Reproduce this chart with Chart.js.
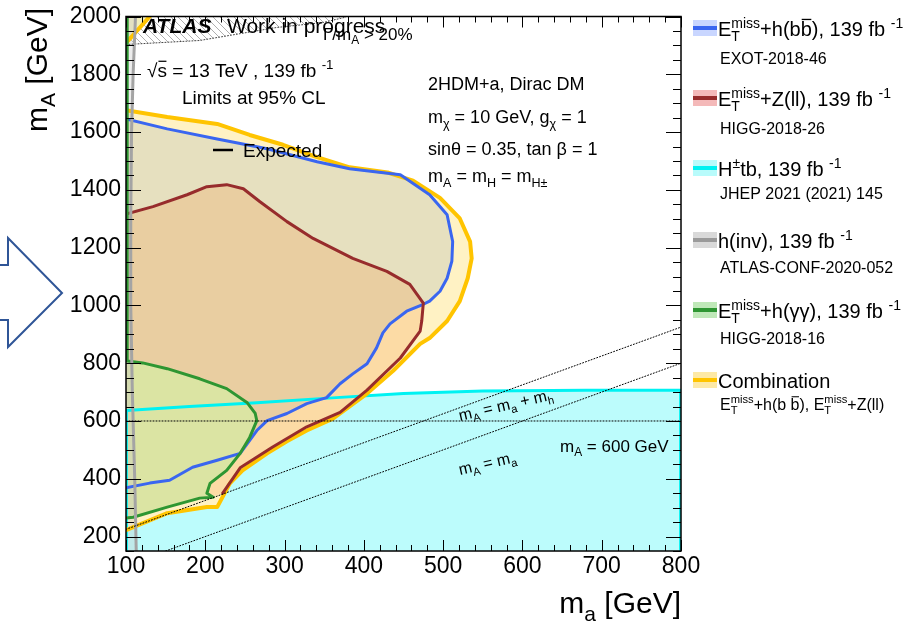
<!DOCTYPE html>
<html>
<head>
<meta charset="utf-8">
<script src="https://cdn.jsdelivr.net/npm/chart.js@4.4.1/dist/chart.umd.min.js"></script>
<style>
  html, body { margin: 0; padding: 0; background: #fff; }
  #plot { display: block; }
</style>
</head>
<body>
<canvas id="plot" width="918" height="628"></canvas>
<script>
const FONT = '"Liberation Sans", Arial, Helvetica, sans-serif';

// axis ticks
const xTickValues = [100, 200, 300, 400, 500, 600, 700, 800];
const yTickValues = [200, 400, 600, 800, 1000, 1200, 1400, 1600, 1800, 2000];

// exclusion contours as [m_a, m_A] in GeV.
// the *Edge arrays hold the points outside the frame that close each area
const combinationContour = [
  [100, 1676], [152, 1652], [215, 1628], [256, 1590], [298, 1556], [340, 1514], [382, 1478],
  [430, 1460], [462, 1432], [496, 1372], [521, 1301], [534, 1221], [536, 1163], [531, 1094],
  [521, 1015], [505, 946], [483, 887], [471, 867], [437, 774], [404, 695], [361, 608],
  [328, 567], [303, 530], [278, 488], [247, 429], [231, 384], [215, 302], [202, 302],
  [152, 281], [100, 222]
];
const combinationEdge = [[90, 222], [90, 1676]];
const combinationCorner = [[100, 1908], [130, 2000], [140, 2030]];
const combinationCornerEdge = [[90, 2030], [90, 1908]];

const hbbContour = [
  [100, 1645], [152, 1611], [215, 1576], [278, 1542], [341, 1497], [382, 1473], [446, 1452],
  [483, 1383], [505, 1314], [512, 1221], [511, 1153], [505, 1094], [496, 1049], [483, 1015],
  [475, 1004], [454, 980], [433, 936], [424, 905], [416, 853], [404, 798], [386, 763],
  [370, 729], [353, 681], [328, 660], [303, 626], [278, 601], [265, 567], [244, 488],
  [215, 464], [184, 440], [155, 395], [130, 385], [100, 369]
];
const hbbEdge = [[90, 369], [90, 1645]];

const zllContour = [
  [100, 1316], [134, 1342], [177, 1383], [202, 1411], [227, 1418], [248, 1404], [269, 1359],
  [303, 1290], [336, 1232], [386, 1163], [429, 1118], [458, 1073], [475, 1008], [473, 946],
  [471, 911], [446, 818], [404, 707], [370, 630], [328, 580], [285, 510], [244, 438],
  [222, 350]
];
const zllEdge = [[205, 335], [90, 318], [90, 1316]];

const hyyContour = [
  [101.5, 2050], [101.5, 808], [121, 801], [152, 781], [193, 746], [227, 712], [253, 663],
  [263, 626], [265, 601], [256, 543], [244, 488], [227, 429], [206, 384], [202, 350],
  [210, 336], [193, 333], [152, 302], [109, 267], [100, 264]
];
const hyyEdge = [[90, 264], [90, 2050]];

const htbContour = [
  [100.5, 140], [100.5, 636], [180, 650], [265, 663], [360, 680], [450, 695], [550, 704],
  [680, 706], [799.5, 706], [799.5, 140]
];

const hinvContour = [
  [113, 140], [111, 400], [108, 700], [106, 1000], [106, 1300], [107, 1600], [109, 1800],
  [112, 2000], [113, 2050]
];
const hinvEdge = [[90, 2050], [90, 140]];

// width / mass > 20% boundary
const widthContour = [
  [100, 1903], [193, 1917], [290, 1962], [348, 1979], [376, 1997], [385, 2010]
];
const widthEdge = [[385, 2040], [90, 2040], [90, 1903]];

// kinematic reference lines
const lineMA600 = [[100, 600], [800, 600]];
const lineMaPlusMh = [[100, 225], [800, 925]];
const lineMaEqual = [[150, 150], [800, 800]];

// legend
const legendLabels = [
  ['E', { sup: 'miss', sub: 'T' }, '+h(b', { bar: 'b' }, '), 139 fb ', { sup: '-1' }],
  ['E', { sup: 'miss', sub: 'T' }, '+Z(ll), 139 fb ', { sup: '-1' }],
  ['H', { sup: '\u00b1' }, 'tb, 139 fb ', { sup: '-1' }],
  ['h(inv), 139 fb ', { sup: '-1' }],
  ['E', { sup: 'miss', sub: 'T' }, '+h(\u03b3\u03b3), 139 fb ', { sup: '-1' }],
  ['Combination']
];
const legendRefs = [
  ['EXOT-2018-46'],
  ['HIGG-2018-26'],
  ['JHEP 2021 (2021) 145'],
  ['ATLAS-CONF-2020-052'],
  ['HIGG-2018-16'],
  ['E', { sup: 'miss', sub: 'T' }, '+h(b ', { bar: 'b' }, '), E', { sup: 'miss', sub: 'T' }, '+Z(ll)']
];
const legendColors = ['#3a66f0', '#972c2c', '#00f2f2', '#9a9a9a', '#2e9632', '#ffc400'];
const legendBands = ['#c9d6ff', '#f4b9b9', '#b8fbfb', '#d9d9d9', '#bfe8b8', '#fde9a6'];

const toXY = (pts) => pts.map(([x, y]) => ({ x, y }));

function hatch() {
  const c = document.createElement('canvas');
  c.width = 7; c.height = 7;
  const g = c.getContext('2d');
  g.strokeStyle = '#9a9a9a';
  g.lineWidth = 0.8;
  g.beginPath();
  g.moveTo(-1, -1); g.lineTo(8, 8);
  g.moveTo(-1, 6); g.lineTo(1, 8);
  g.moveTo(6, -1); g.lineTo(8, 1);
  g.stroke();
  return g.createPattern(c, 'repeat');
}

function area(points, color, order) {
  return {
    data: toXY(points), showLine: true, fill: 'shape', backgroundColor: color,
    borderWidth: 0, pointRadius: 0, order, clip: 0
  };
}

function outline(points, color, width, order, dash) {
  return {
    data: toXY(points), showLine: true, fill: false, borderColor: color,
    borderWidth: width, borderDash: dash || [], pointRadius: 0, order, clip: 0,
    borderJoinStyle: 'round', borderCapStyle: 'round'
  };
}

const datasets = [
  area(widthContour.concat(widthEdge), hatch(), 20),
  area(htbContour, '#bcfcfc', 19),
  area(combinationContour.concat(combinationEdge), '#fff2c4', 18),
  area(combinationCorner.concat(combinationCornerEdge), '#f1efbd', 18),
  area(hbbContour.concat(hbbEdge), 'rgba(90,120,170,0.15)', 17),
  area(zllContour.concat(zllEdge), 'rgba(245,150,70,0.25)', 16),
  area(hyyContour.concat(hyyEdge), '#dbe4a3', 15),
  area(hinvContour.concat(hinvEdge), 'rgba(200,200,200,0.35)', 14),

  outline(widthContour, '#444', 1, 9, [1, 2]),
  outline(htbContour, '#00f2f2', 3, 8),
  outline(combinationContour, '#ffc400', 4, 7),
  outline(combinationCorner, '#ffc400', 4, 7),
  outline(hbbContour, '#3a66f0', 3, 6),
  outline(zllContour, '#972c2c', 3, 5),
  outline(hyyContour, '#2e9632', 3, 4),
  outline(hinvContour, '#a4a4a4', 3, 3),
  outline(lineMA600, '#000', 1, 2, [1, 2]),
  outline(lineMaPlusMh, '#000', 1, 2, [1, 2]),
  outline(lineMaEqual, '#000', 1, 2, [1, 2])
];

// text with super/subscripts: parts are strings or {sup, sub} / {bar}
function richWidth(ctx, parts, size) {
  let w = 0;
  for (const p of parts) {
    if (typeof p === 'string' || p.bar) {
      ctx.font = size + 'px ' + FONT;
      w += ctx.measureText(typeof p === 'string' ? p : p.bar).width;
    } else {
      ctx.font = (size * 0.7) + 'px ' + FONT;
      w += Math.max(p.sup ? ctx.measureText(p.sup).width : 0, p.sub ? ctx.measureText(p.sub).width : 0);
    }
  }
  return w;
}

function drawRich(ctx, x, y, parts, size) {
  ctx.textBaseline = 'alphabetic';
  ctx.textAlign = 'left';
  for (const p of parts) {
    if (typeof p === 'string') {
      ctx.font = size + 'px ' + FONT;
      ctx.fillText(p, x, y);
      x += ctx.measureText(p).width;
    } else if (p.bar) {
      ctx.font = size + 'px ' + FONT;
      const w = ctx.measureText(p.bar).width;
      ctx.fillText(p.bar, x, y);
      ctx.fillRect(x + 1, y - size * 0.86, w - 1.5, Math.max(1, size * 0.065));
      x += w;
    } else {
      ctx.font = (size * 0.7) + 'px ' + FONT;
      let w = 0;
      if (p.sup) { ctx.fillText(p.sup, x, y - size * 0.42); w = ctx.measureText(p.sup).width; }
      if (p.sub) { ctx.fillText(p.sub, x, y + size * 0.26); w = Math.max(w, ctx.measureText(p.sub).width); }
      x += w;
    }
  }
  return x;
}

const decorations = {
  id: 'decorations',
  afterDraw(chart) {
    const { ctx, chartArea: a, scales: { x, y } } = chart;
    ctx.save();
    ctx.fillStyle = '#000';
    ctx.strokeStyle = '#000';

    // inward ticks on all four sides
    ctx.lineWidth = 1;
    ctx.beginPath();
    for (let v = 100; v <= 800; v += 20) {
      const px = Math.round(x.getPixelForValue(v)) + 0.5;
      const len = v % 100 === 0 ? 11 : 6;
      ctx.moveTo(px, a.bottom); ctx.lineTo(px, a.bottom - len);
      ctx.moveTo(px, a.top); ctx.lineTo(px, a.top + len);
    }
    for (let v = 150; v <= 2000; v += 50) {
      const py = Math.round(y.getPixelForValue(v)) + 0.5;
      const len = v % 200 === 0 ? 15 : 8;
      ctx.moveTo(a.left, py); ctx.lineTo(a.left + len, py);
      ctx.moveTo(a.right, py); ctx.lineTo(a.right - len, py);
    }
    ctx.stroke();
    ctx.lineWidth = 1.5;
    ctx.strokeRect(a.left, a.top, a.right - a.left, a.bottom - a.top);

    // axis titles
    const titleSize = 30;
    const xt = [ 'm', { sub: 'a' }, ' [GeV]' ];
    drawRich(ctx, a.right - richWidth(ctx, xt, titleSize), 613, xt, titleSize);
    const yt = [ 'm', { sub: 'A' }, ' [GeV]' ];
    ctx.save();
    ctx.translate(47, 8);
    ctx.rotate(-Math.PI / 2);
    drawRich(ctx, -richWidth(ctx, yt, titleSize), 0, yt, titleSize);
    ctx.restore();

    // labels inside the frame
    ctx.font = 'italic bold 21px ' + FONT;
    ctx.fillText('ATLAS', 143, 33);
    ctx.font = '21px ' + FONT;
    ctx.fillText('Work in progress', 227, 33);
    drawRich(ctx, 323, 40, ['\u0393/m', { sub: 'A' }, ' > 20%'], 17);
    drawRich(ctx, 147, 77, ['\u221a', { bar: 's' }, ' = 13 TeV , 139 fb ', { sup: '-1' }], 19);
    drawRich(ctx, 182, 104, ['Limits at 95% CL'], 19);
    ctx.lineWidth = 2.5;
    ctx.beginPath(); ctx.moveTo(213, 150); ctx.lineTo(233, 150); ctx.stroke();
    drawRich(ctx, 243, 157, ['Expected'], 19);

    drawRich(ctx, 428, 90, ['2HDM+a, Dirac DM'], 18);
    drawRich(ctx, 428, 123, ['m', { sub: '\u03c7' }, ' = 10 GeV, g', { sub: '\u03c7' }, ' = 1'], 18);
    drawRich(ctx, 428, 155, ['sin\u03b8 = 0.35, tan \u03b2 = 1'], 18);
    drawRich(ctx, 428, 182, ['m', { sub: 'A' }, ' = m', { sub: 'H' }, ' = m', { sub: 'H\u00b1' }], 18);

    drawRich(ctx, 560, 452, ['m', { sub: 'A' }, ' = 600 GeV'], 17);
    ctx.save();
    ctx.translate(460, 421); ctx.rotate(-13 * Math.PI / 180);
    drawRich(ctx, 0, 0, ['m', { sub: 'A' }, ' = m', { sub: 'a' }, ' + m', { sub: 'h' }], 16);
    ctx.restore();
    ctx.save();
    ctx.translate(460, 475); ctx.rotate(-13 * Math.PI / 180);
    drawRich(ctx, 0, 0, ['m', { sub: 'A' }, ' = m', { sub: 'a' }], 16);
    ctx.restore();

    // legend
    const rowY = [28, 98, 168, 240, 310, 380];
    const refY = [64, 134, 199, 273, 344, 410];
    rowY.forEach((cy, i) => {
      ctx.fillStyle = legendBands[i];
      ctx.fillRect(693, cy - 8, 24, 16);
      ctx.fillStyle = legendColors[i];
      ctx.fillRect(693, cy - 2, 24, 4);
      ctx.fillStyle = '#000';
      drawRich(ctx, 718, cy + 8, legendLabels[i], 20);
      drawRich(ctx, 720, refY[i], legendRefs[i], 16);
    });

    // arrow outline at the left margin
    ctx.strokeStyle = '#2f5597';
    ctx.lineWidth = 2;
    ctx.lineJoin = 'miter';
    ctx.beginPath();
    ctx.moveTo(-2, 265); ctx.lineTo(8, 265); ctx.lineTo(8, 238); ctx.lineTo(62, 293);
    ctx.lineTo(8, 347); ctx.lineTo(8, 320); ctx.lineTo(-2, 320);
    ctx.stroke();
    ctx.restore();
  }
};

new Chart(document.getElementById('plot'), {
  type: 'scatter',
  data: { datasets },
  options: {
    responsive: false,
    animation: false,
    devicePixelRatio: 1,
    layout: { padding: { left: 0, right: 237, top: 14, bottom: 0 } },
    elements: { point: { radius: 0 }, line: { tension: 0, capBezierPoints: false } },
    plugins: { legend: { display: false }, tooltip: { enabled: false } },
    scales: {
      x: {
        type: 'linear', min: 100, max: 800,
        afterBuildTicks: (s) => { s.ticks = xTickValues.map((v) => ({ value: v })); },
        afterFit: (s) => { s.height = 77; },
        grid: { display: false, drawTicks: false },
        border: { display: false },
        ticks: {
          autoSkip: false, maxRotation: 0, padding: 4, color: '#000',
          font: { family: FONT, size: 23, lineHeight: 1 },
          callback: (v) => String(v)
        }
      },
      y: {
        type: 'linear', min: 150, max: 2000,
        afterBuildTicks: (s) => { s.ticks = yTickValues.map((v) => ({ value: v })); },
        afterFit: (s) => { s.width = 126; },
        grid: { display: false, drawTicks: false },
        border: { display: false },
        ticks: {
          autoSkip: false, padding: 5, color: '#000',
          font: { family: FONT, size: 23, lineHeight: 1 },
          callback: (v) => String(v)
        }
      }
    }
  },
  plugins: [decorations]
});
</script>
</body>
</html>
